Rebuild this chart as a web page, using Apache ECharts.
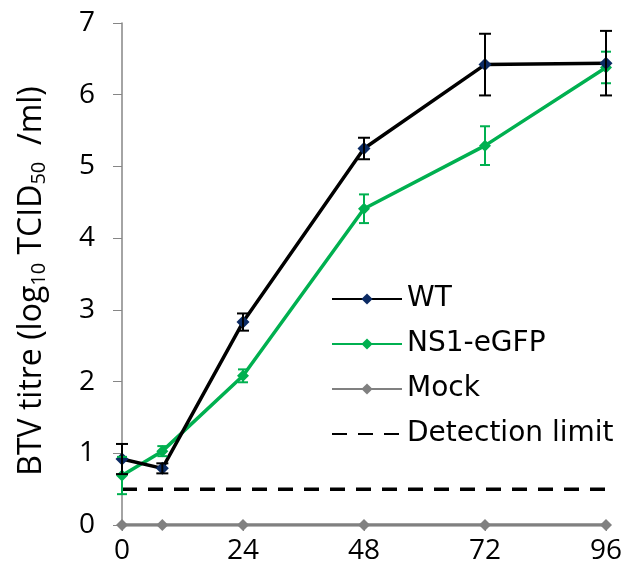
<!DOCTYPE html>
<html>
<head>
<meta charset="utf-8">
<style>
  html, body { margin: 0; padding: 0; background: #fff; }
  #chart { width: 626px; height: 583px; }
</style>
<script src="https://cdn.jsdelivr.net/npm/echarts@6/dist/echarts.min.js"></script>
</head>
<body>
<div id="chart"></div>
<script>
// Sampling times (hours post infection)
const hours = [0, 8, 24, 48, 72, 96];
const xTicks = [0, 24, 48, 72, 96];

// Virus titres, log10 TCID50/ml, with standard deviations
const wtMean   = [0.92, 0.79, 2.83, 5.25, 6.42, 6.44];
const wtErr    = [0.21, 0.07, 0.12, 0.15, 0.43, 0.45];
const ns1Mean  = [0.69, 1.03, 2.08, 4.41, 5.29, 6.38];
const ns1Err   = [0.26, 0.07, 0.09, 0.20, 0.27, 0.22];
const mockMean = [0, 0, 0, 0, 0, 0];
const detectionLimit = 0.5;

const pairs = (xs, ys) => xs.map((x, i) => [x, ys[i]]);
const errRows = (xs, ys, es) => xs.map((x, i) => [x, ys[i] - es[i], ys[i] + es[i]]);

function errorBar(color, capHalf) {
  return function (params, api) {
    const x = api.value(0);
    const lo = api.coord([x, api.value(1)]);
    const hi = api.coord([x, api.value(2)]);
    const style = { stroke: color, lineWidth: 2 };
    return {
      type: 'group',
      children: [
        { type: 'line', shape: { x1: lo[0], y1: lo[1], x2: hi[0], y2: hi[1] }, style },
        { type: 'line', shape: { x1: lo[0] - capHalf, y1: lo[1], x2: lo[0] + capHalf, y2: lo[1] }, style },
        { type: 'line', shape: { x1: hi[0] - capHalf, y1: hi[1], x2: hi[0] + capHalf, y2: hi[1] }, style }
      ]
    };
  };
}

const AXIS_FONT = 'Open Sans';
const LEGEND_FONT = 'DejaVu Sans';
const chart = echarts.init(document.getElementById('chart'), null, { renderer: 'canvas' });

chart.setOption({
  animation: false,
  backgroundColor: '#ffffff',
  grid: { left: 122, right: 20, top: 23, bottom: 58, containLabel: false },
  xAxis: {
    type: 'value',
    min: 0, max: 96, interval: 24,
    axisLine: { show: true, onZero: false, lineStyle: { color: '#868686', width: 1.5 } },
    axisTick: { show: true, length: 6, lineStyle: { color: '#868686' } },
    splitLine: { show: false },
    axisLabel: {
      color: '#000', fontFamily: AXIS_FONT, fontSize: 28, margin: 12,
      customValues: xTicks
    }
  },
  yAxis: {
    type: 'value',
    min: 0, max: 7, interval: 1,
    axisLine: { show: true, lineStyle: { color: '#868686', width: 1.5 } },
    axisTick: { show: true, length: 9, lineStyle: { color: '#868686' } },
    splitLine: { show: false },
    axisLabel: { color: '#000', fontFamily: AXIS_FONT, fontSize: 28, margin: 27 },
    name: '{n|BTV titre (log}{s|10}{n| TCID}{s|50}{n|  /ml)}',
    nameLocation: 'middle',
    nameGap: 73,
    nameRotate: 90,
    nameTextStyle: {
      padding: [0, 14, 0, 0],
      rich: {
        n: { fontFamily: AXIS_FONT, fontSize: 32, color: '#000' },
        s: { fontFamily: AXIS_FONT, fontSize: 20, color: '#000', verticalAlign: 'bottom', padding: [15, 0, 0, 0] }
      }
    }
  },
  legend: {
    orient: 'vertical',
    left: 326, top: 280,
    itemWidth: 70, itemHeight: 14,
    itemGap: 17,
    textStyle: { fontFamily: LEGEND_FONT, fontSize: 28, color: '#000', padding: [0, 0, 0, 0] },
    data: [
      'WT', 'NS1-eGFP', 'Mock',
      { name: 'Detection limit', itemStyle: { color: 'rgba(0,0,0,0)', borderWidth: 0 } }
    ]
  },
  series: [
    {
      name: 'Detection limit', type: 'line',
      data: [[0, detectionLimit], [96, detectionLimit]],
      symbol: 'none',
      lineStyle: { color: '#000', width: 3.5, type: [15, 11] },
      itemStyle: { color: '#000' },
      z: 1
    },
    {
      name: 'Mock', type: 'line',
      data: pairs(hours, mockMean),
      symbol: 'diamond', symbolSize: 12,
      lineStyle: { color: '#808080', width: 3.5 },
      itemStyle: { color: '#808080' },
      z: 2
    },
    {
      name: 'NS1-eGFP', type: 'line',
      data: pairs(hours, ns1Mean),
      symbol: 'diamond', symbolSize: 12,
      lineStyle: { color: '#00b050', width: 3.5 },
      itemStyle: { color: '#00b050' },
      z: 3
    },
    {
      name: 'WT', type: 'line',
      data: pairs(hours, wtMean),
      symbol: 'diamond', symbolSize: 13,
      lineStyle: { color: '#000', width: 3.5 },
      itemStyle: { color: '#0b2a63' },
      z: 4
    },
    {
      type: 'custom',
      data: errRows(hours, ns1Mean, ns1Err),
      renderItem: errorBar('#00b050', 5),
      encode: { x: 0, y: [1, 2] },
      z: 5, silent: true
    },
    {
      type: 'custom',
      data: errRows(hours, wtMean, wtErr),
      renderItem: errorBar('#000', 6),
      encode: { x: 0, y: [1, 2] },
      z: 6, silent: true
    }
  ]
});
</script>
</body>
</html>
